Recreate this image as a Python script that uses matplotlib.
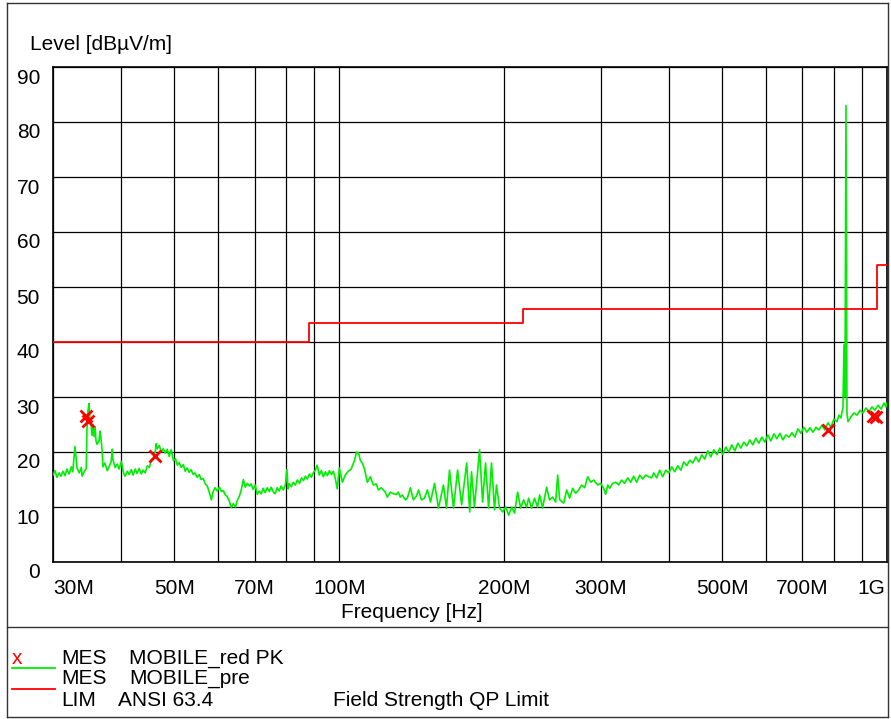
import matplotlib
matplotlib.use("Agg")
import matplotlib.pyplot as plt
from matplotlib.lines import Line2D
from matplotlib.ticker import NullLocator
from matplotlib.transforms import offset_copy

plt.rcParams['font.family'] = ['Liberation Sans', 'DejaVu Sans']

W, H = 891, 719

# measured trace (MOBILE_pre), frequency in MHz, level in dBuV/m
trace_freq = [
    30.0, 30.25, 30.5, 30.8, 31.0, 31.3, 31.55, 31.8, 32.1, 32.4, 32.6, 32.9, 33.05, 33.2, 33.5,
    33.8, 33.9, 34.2, 34.5, 34.6, 34.75, 34.9, 35.05, 35.2, 35.35, 35.5, 35.65, 35.8, 35.95, 36.1,
    36.4, 36.55, 36.7, 36.9, 37.0, 37.3, 37.7, 38.0, 38.3, 38.5, 38.6, 38.95, 39.3, 39.6, 40.0,
    40.3, 40.6, 41.0, 41.3, 41.7, 42.0, 42.4, 42.7, 43.1, 43.5, 43.8, 44.2, 44.6, 45.0, 45.3,
    45.7, 46.1, 46.3, 46.5, 46.9, 47.3, 47.7, 48.1, 48.5, 48.9, 49.3, 49.8, 50.2, 50.6, 51.0,
    51.4, 51.9, 52.3, 52.7, 53.2, 53.6, 54.1, 54.5, 55.0, 55.5, 55.9, 56.4, 56.9, 57.4, 57.9,
    58.4, 58.8, 59.3, 59.8, 60.4, 60.9, 61.4, 61.9, 62.4, 63.0, 63.5, 64.0, 64.6, 65.1, 65.7,
    66.2, 66.8, 67.3, 67.9, 68.5, 69.0, 69.6, 70.2, 70.8, 71.4, 72.0, 72.6, 73.2, 73.9, 74.5,
    75.1, 75.8, 76.3, 77.0, 77.6, 78.3, 79.0, 79.7, 80.2, 80.6, 81.0, 81.7, 82.4, 83.1, 83.8,
    84.6, 85.3, 86.0, 86.7, 87.4, 88.2, 88.9, 89.7, 90.4, 91.1, 91.9, 92.7, 93.5, 94.3, 95.1,
    95.9, 96.7, 97.5, 98.3, 99.1, 100.0, 101.3, 102.5, 103.8, 105.1, 106.6, 107.5, 108.4, 109.2, 110.1,
    111.1, 112.5, 113.9, 115.4, 116.8, 117.8, 119.3, 121.3, 122.3, 123.9, 125.5, 127.1, 128.1, 129.2, 130.3,
    132.0, 133.1, 134.8, 136.5, 138.3, 139.5, 141.2, 143.0, 144.8, 146.7, 149.2, 151.7, 154.9, 156.9, 158.9,
    161.6, 164.4, 167.2, 170.8, 173.0, 174.3, 176.5, 180.3, 182.6, 184.9, 187.3, 189.6, 192.0, 193.6, 196.1,
    198.7, 201.2, 203.8, 206.4, 208.9, 211.6, 214.3, 217.0, 219.7, 221.6, 224.4, 227.2, 230.1, 232.1, 235.0,
    239.0, 242.0, 245.1, 248.3, 250.4, 252.5, 256.8, 260.1, 263.3, 266.7, 270.1, 273.5, 277.0, 280.5, 284.1,
    287.7, 291.3, 296.3, 300.0, 303.8, 306.4, 309.0, 311.6, 315.6, 319.6, 323.6, 327.7, 331.9, 336.1, 340.4,
    344.7, 349.1, 353.5, 358.0, 362.6, 367.2, 371.8, 375.0, 379.8, 384.6, 389.5, 394.5, 399.5, 404.6, 409.7,
    414.9, 420.2, 425.5, 430.9, 436.4, 441.9, 447.6, 453.2, 459.0, 464.8, 470.7, 476.7, 482.8, 488.9, 495.1,
    501.4, 507.8, 514.2, 520.7, 527.4, 534.0, 540.9, 547.7, 554.7, 561.7, 568.9, 576.1, 583.4, 590.8, 598.3,
    605.9, 613.7, 621.5, 629.4, 637.4, 645.5, 653.7, 662.0, 670.4, 678.9, 687.5, 696.3, 705.1, 714.1, 723.2,
    732.4, 741.7, 751.1, 760.7, 770.3, 780.1, 790.1, 800.1, 810.3, 817.1, 824.0, 827.5, 831.0, 834.5, 838.0,
    841.6, 845.1, 848.7, 859.5, 870.4, 881.5, 892.7, 904.1, 915.5, 927.2, 938.9, 950.9, 962.9, 975.2, 987.6,
    995.8, 1000.0,
]
trace_level = [
    15.8, 16.6, 15.4, 16.2, 15.6, 16.5, 15.7, 16.9, 16.0, 17.3, 16.4, 21.0, 19.0, 17.0, 16.2,
    17.2, 15.6, 16.4, 17.0, 24.0, 27.5, 28.8, 26.0, 25.0, 23.0, 25.0, 22.8, 24.6, 22.0, 21.4,
    22.0, 23.8, 22.6, 20.0, 17.3, 18.0, 16.6, 17.4, 18.2, 20.5, 18.6, 17.2, 17.8, 16.9, 18.3,
    16.4, 15.6, 16.5, 15.9, 16.8, 15.8, 16.9, 16.1, 17.0, 16.0, 16.7, 16.2, 17.5, 17.2, 18.5,
    18.9, 20.0, 21.5, 20.6, 21.2, 20.0, 20.6, 19.8, 20.5, 19.2, 20.4, 18.4, 18.8, 17.6, 18.1,
    17.2, 17.7, 16.5, 17.1, 16.3, 16.8, 15.9, 16.2, 15.4, 15.9, 15.0, 15.2, 14.2, 13.8, 12.6,
    11.3, 12.8, 13.5, 12.9, 13.6, 12.8, 13.0, 12.2, 11.9, 11.0, 9.9, 10.6, 10.0, 11.2, 12.0,
    13.1, 15.0, 13.6, 14.3, 13.8, 14.2, 13.2, 14.0, 12.3, 12.9, 12.4, 13.4, 12.6, 13.5, 12.8,
    13.6, 12.7, 12.4, 13.5, 12.9, 13.8, 13.1, 14.0, 16.8, 13.3, 14.2, 13.7, 14.5, 14.0, 14.9,
    14.3, 15.3, 14.8, 15.6, 15.1, 16.0, 15.4, 16.3, 16.7, 17.6, 15.8, 16.6, 15.5, 16.4, 15.7,
    16.6, 15.9, 16.5, 15.2, 13.3, 17.1, 14.5, 15.8, 16.5, 16.9, 18.5, 20.0, 19.8, 18.5, 18.0,
    17.0, 14.5, 15.5, 14.0, 14.2, 13.1, 13.5, 12.7, 11.8, 12.7, 12.4, 12.3, 12.7, 11.8, 12.2,
    11.3, 11.6, 13.5, 11.3, 12.0, 13.1, 11.3, 11.6, 13.1, 10.9, 14.3, 9.8, 14.0, 9.8, 16.7,
    9.8, 16.7, 10.4, 18.0, 9.1, 16.4, 10.0, 20.4, 10.9, 18.0, 9.8, 18.0, 9.5, 14.0, 9.8,
    9.1, 10.0, 8.5, 10.0, 8.9, 12.7, 9.8, 11.3, 10.0, 11.6, 9.8, 11.6, 10.0, 12.2, 9.8,
    13.6, 11.3, 11.8, 10.9, 15.8, 11.3, 10.7, 13.1, 11.6, 13.4, 12.5, 13.1, 14.0, 13.5, 15.5,
    14.5, 14.9, 14.0, 14.3, 13.4, 12.3, 14.0, 13.4, 14.3, 14.5, 14.0, 14.9, 14.3, 15.3, 14.5,
    15.6, 14.5, 15.8, 15.1, 15.8, 15.5, 15.3, 16.2, 15.3, 16.7, 15.5, 16.7, 16.2, 17.3, 16.4,
    17.5, 16.7, 18.2, 17.5, 18.5, 18.0, 19.1, 18.2, 19.5, 18.7, 20.2, 19.1, 20.4, 19.5, 20.7,
    19.6, 20.9, 20.0, 21.3, 20.2, 21.6, 20.7, 21.8, 21.1, 22.2, 21.3, 22.5, 21.6, 22.7, 21.8,
    23.1, 22.0, 23.3, 22.4, 23.4, 22.2, 23.1, 22.7, 23.5, 22.7, 24.2, 23.4, 24.5, 23.6, 24.4,
    23.6, 24.5, 24.0, 24.9, 24.0, 25.3, 24.5, 26.0, 25.5, 26.7, 26.2, 27.3, 28.0, 39.5, 30.0,
    83.0, 27.0, 25.5, 26.4, 27.1, 26.7, 27.6, 27.1, 28.0, 27.3, 28.2, 27.6, 28.5, 27.8, 28.9,
    28.2, 28.9,
]

# final measurement points (MOBILE_red PK)
peak_freq = [34.5, 34.8, 46.1, 780.1, 942.9, 954.9]
peak_level = [26.5, 25.6, 19.3, 24.0, 26.5, 26.4]

# ANSI 63.4 field strength QP limit, start frequency of each step
limit_freq = [30, 88, 216, 960, 1000]
limit_level = [40, 43.5, 46, 54, 54]

grid_freq = [30, 40, 50, 60, 70, 80, 90, 100, 200, 300, 400, 500, 600, 700, 800, 900, 1000]
tick_freq = [30, 50, 70, 100, 200, 300, 500, 700, 1000]
tick_text = ['30M', '50M', '70M', '100M', '200M', '300M', '500M', '700M', '1G']
level_ticks = [0, 10, 20, 30, 40, 50, 60, 70, 80, 90]

FS = 15


def px(x, y):
    return x / W, 1 - y / H


fig = plt.figure(figsize=(W / 100, H / 100), dpi=100)
ax = fig.add_axes([53 / W, 1 - 562 / H, (887 - 53) / W, (562 - 67) / H])
ax.set_xscale('log')
ax.set_xlim(30, 1000)
ax.set_ylim(0, 90)
ax.set_xticks(grid_freq)
ax.xaxis.set_minor_locator(NullLocator())
ax.set_yticks(level_ticks)
ax.tick_params(length=0, labelbottom=False, labelleft=False)
ax.grid(True, color='black', lw=0.9)
for s in ax.spines.values():
    s.set_linewidth(1.2)

ax.plot(trace_freq, trace_level, color='#00ee00', lw=1.2, zorder=3)
ax.plot(limit_freq, limit_level, color='#ff0000', lw=1.3, drawstyle='steps-post', zorder=4)
ax.plot(peak_freq, peak_level, 'x', color='#ff0000', ms=9, mew=2, ls='none', zorder=5)

# tick labels
for f, t in zip(tick_freq, tick_text):
    ha = 'center'
    dx = 0
    if f == 30:
        ha = 'left'
    elif f == 1000:
        ha, dx = 'right', -2
    tr = offset_copy(ax.get_xaxis_transform(), fig=fig, x=dx, y=-26, units='dots')
    ax.text(f, 0, t, transform=tr, ha=ha, va='center', fontsize=FS, clip_on=False)
for v in level_ticks:
    tr = offset_copy(ax.get_yaxis_transform(), fig=fig, x=-13, y=-11, units='dots')
    ax.text(0, v, str(v), transform=tr, ha='right', va='center', fontsize=FS, clip_on=False)

fig.text(*px(30, 45), 'Level [dBµV/m]', ha='left', va='center', fontsize=FS)
fig.text(*px(412, 613), 'Frequency [Hz]', ha='center', va='center', fontsize=FS)

# outer frame and legend separator
frame = '#333333'
for xs, ys in [([7, 888], [3, 3]), ([7, 7], [3, 717]), ([888, 888], [3, 717]),
               ([7, 888], [717, 717]), ([7, 888], [627, 627])]:
    fig.add_artist(Line2D([x / W for x in xs], [1 - y / H for y in ys],
                          transform=fig.transFigure, color=frame, lw=1.0))

# legend block
fig.text(*px(12, 659), 'x', color='#ff0000', ha='left', va='center', fontsize=FS)
fig.add_artist(Line2D([12 / W, 55 / W], [1 - 668 / H] * 2, transform=fig.transFigure,
                      color='#00ee00', lw=1.3))
fig.add_artist(Line2D([12 / W, 55 / W], [1 - 689 / H] * 2, transform=fig.transFigure,
                      color='#ff0000', lw=1.3))
rows = [(658, 'MES', 129, 'MOBILE_red PK'),
        (679, 'MES', 129, 'MOBILE_pre'),
        (700, 'LIM', 118, 'ANSI 63.4')]
for y, a, xb, b in rows:
    fig.text(*px(61, y), a, ha='left', va='center', fontsize=FS)
    fig.text(*px(xb, y), b, ha='left', va='center', fontsize=FS)
fig.text(*px(333, 700), 'Field Strength QP Limit', ha='left', va='center', fontsize=FS)

fig.savefig('out.png', dpi=100)
